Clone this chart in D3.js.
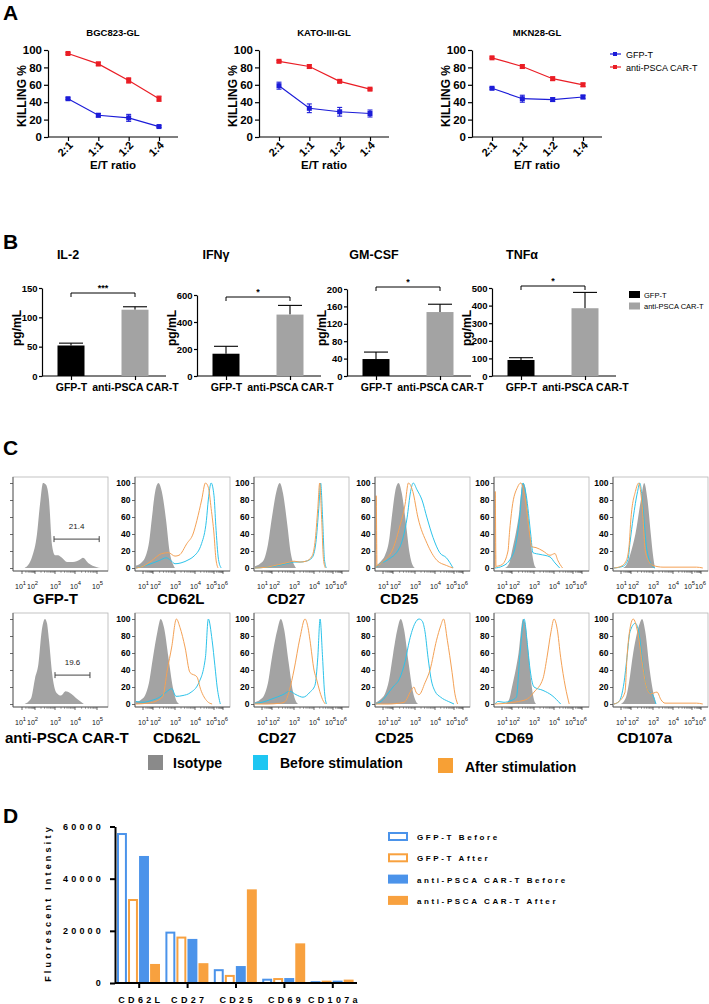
<!DOCTYPE html>
<html><head><meta charset="utf-8">
<script src="https://cdnjs.cloudflare.com/ajax/libs/d3/7.8.5/d3.min.js"></script>
<style>body{margin:0;background:#fff}svg{display:block}</style>
</head><body>
<svg id="chart" width="709" height="1004"></svg>
<script>
// ================= DATA =================
// Panel A
const ratios = ["2:1","1:1","1:2","1:4"];
const cellLines = ["BGC823-GL","KATO-III-GL","MKN28-GL"];
const killTicks = [0,20,40,60,80,100];
const killGFP    = [[44,25,22,12],[59,33,29,27],[56,44,43,46]];
const killGFPErr = [[1,2,4,1],[4,5,5,4],[1,4,2,2]];
const killCAR    = [[96,84,65,44],[87,81,64,55],[91,81,67,60]];
const killCARErr = [[1,2,3,3],[1,2,1,1],[1,2,2,2]];
const killSeries = ["GFP-T","anti-PSCA CAR-T"];

// Panel B
const bGroups = ["GFP-T","anti-PSCA CAR-T"];
const cytokines = ["IL-2","IFNγ","GM-CSF","TNFα"];
const cytoGFP    = [52,165,39,91];
const cytoGFPErr = [4,55,16,13];
const cytoCAR    = [113,455,147,385];
const cytoCARErr = [5,68,18,90];
const cytoTicks = [[0,50,100,150],[0,200,400,600],[0,40,80,120,160,200],[0,100,200,300,400,500]];
const cytoSig = ["***","*","*","*"];

// Panel C  (x = log10 fluorescence, y = % of max)
const histRows = ["GFP-T","anti-PSCA CAR-T"];
const histMarkers = ["CD62L","CD27","CD25","CD69","CD107a"];
const histPctTicks = [0,20,40,60,80,100];
const gfpHistGFPT = [[1.2,0],[1.5,4],[1.77,13],[2.1,40],[2.25,75],[2.4,100],[2.55,98],[2.7,80],[2.85,27],[3.0,15],[3.15,15],[3.35,12],[3.6,7],[3.9,7],[4.23,10],[4.36,12],[4.6,6],[5.0,1],[5.15,0]];
const gfpHistCAR  = [[1.2,0],[1.5,3],[1.73,8],[2.0,30],[2.17,47],[2.33,85],[2.5,100],[2.6,95],[2.7,75],[2.85,37],[3.08,13],[3.3,10],[3.53,15],[3.75,13],[4.1,6],[4.4,0]];
const gfpGatePct = ["21.4","19.6"];
const gfpGateFrom = [2.95,3.0];
const gfpGateTo = [5.1,4.68];

const CD62L_GFP_iso    = [[0.3,3],[0.8,6],[1.2,12],[1.6,30],[1.9,60],[2.1,90],[2.25,100],[2.4,90],[2.6,55],[2.75,20],[2.9,5],[3.0,0]];
const CD62L_GFP_before = [[0.3,0],[1,2],[1.8,5],[2.3,9],[2.6,12],[2.8,9],[3.0,5],[3.3,6],[3.7,10],[3.9,13],[4.35,29],[4.6,56],[4.7,80],[4.85,100],[5.0,85],[5.2,50],[5.5,10],[5.8,0]];
const CD62L_GFP_after  = [[0.3,0],[1,2],[1.8,8],[2.4,17],[2.7,18],[3.0,14],[3.2,15],[3.6,29],[3.9,40],[4.1,56],[4.35,80],[4.55,100],[4.7,95],[4.85,70],[5.0,40],[5.2,12],[5.45,0]];
const CD62L_CAR_iso    = [[0.3,2],[0.8,5],[1.2,10],[1.6,25],[2.0,55],[2.2,85],[2.35,100],[2.5,90],[2.7,55],[2.9,20],[3.05,5],[3.2,0]];
const CD62L_CAR_before = [[0.3,3],[1,2],[1.8,4],[2.3,8],[2.6,14],[2.85,18],[3.05,9],[3.4,10],[3.75,13],[4.2,25],[4.55,55],[4.7,100],[4.9,75],[5.1,45],[5.35,20],[5.7,0]];
const CD62L_CAR_after  = [[0.3,0],[1.5,1],[2.2,4],[2.45,9],[2.65,40],[2.85,67],[3.07,100],[3.25,90],[3.5,67],[3.75,37],[4.1,32],[4.3,17],[4.65,3],[4.9,0]];

const CD27_GFP_iso    = [[0.3,2],[0.8,5],[1.2,10],[1.6,28],[2.0,60],[2.2,90],[2.35,100],[2.5,88],[2.7,50],[2.85,18],[3.0,4],[3.1,0]];
const CD27_GFP_before = [[0.3,0],[1.5,1],[2.3,3],[2.8,6],[3.0,7],[3.3,7],[3.6,8],[3.9,12],[4.1,30],[4.25,70],[4.35,100],[4.45,60],[4.55,10],[4.65,0]];
const CD27_GFP_after  = [[0.3,0],[1.5,1],[2.3,4],[2.8,7],[3.0,8],[3.3,7],[3.6,8],[3.9,14],[4.05,30],[4.2,70],[4.3,100],[4.4,60],[4.5,10],[4.6,0]];
const CD27_CAR_iso    = [[0.3,2],[0.8,5],[1.2,10],[1.6,25],[2.0,55],[2.25,88],[2.4,100],[2.55,88],[2.75,50],[2.95,15],[3.1,3],[3.2,0]];
const CD27_CAR_before = [[0.3,1],[1,2],[2.0,6],[2.5,11],[2.8,15],[3.1,11],[3.45,8],[3.8,14],[4.05,22],[4.2,55],[4.32,100],[4.45,55],[4.55,15],[4.65,0]];
const CD27_CAR_after  = [[0.3,0],[1.5,0],[2.4,1],[2.6,3],[2.8,17],[3.0,40],[3.3,78],[3.55,100],[3.7,90],[3.8,75],[4.0,40],[4.15,28],[4.3,15],[4.5,3],[4.6,0]];

const CD25_GFP_iso    = [[0.3,3],[0.8,8],[1.2,15],[1.6,32],[1.9,62],[2.1,90],[2.25,100],[2.4,88],[2.6,50],[2.75,18],[2.9,3],[3.0,0]];
const CD25_GFP_before = [[0.3,0],[0.5,3],[1.4,9],[2.3,24],[2.64,59],[2.8,90],[2.92,100],[3.1,92],[3.35,80],[3.6,59],[3.9,36],[4.25,18],[4.6,12],[4.95,0]];
const CD25_GFP_after  = [[0.3,0],[0.32,85],[0.4,3],[1.2,10],[1.9,20],[2.3,48],[2.55,75],[2.7,100],[2.9,90],[3.15,59],[3.6,29],[4.1,9],[4.6,3],[4.95,0]];
const CD25_CAR_iso    = [[0.3,2],[0.8,6],[1.2,12],[1.6,28],[2.0,58],[2.2,88],[2.35,100],[2.5,88],[2.7,50],[2.9,15],[3.05,3],[3.15,0]];
const CD25_CAR_before = [[0.3,0],[1.0,5],[1.6,14],[2.0,20],[2.3,30],[2.55,50],[2.75,75],[3.0,95],[3.2,100],[3.35,98],[3.5,85],[3.65,55],[3.8,30],[4.0,15],[4.3,8],[4.7,3],[5.0,0]];
const CD25_CAR_after  = [[0.3,0],[1.5,0],[2.5,2],[2.85,17],[2.95,20],[3.05,14],[3.2,11],[3.5,25],[3.75,40],[4.08,75],[4.3,92],[4.45,100],[4.65,75],[4.9,37],[5.1,12],[5.4,0]];

const CD69_GFP_iso    = [[1.3,0],[1.7,5],[2.0,20],[2.3,60],[2.5,100],[2.6,95],[2.75,60],[2.9,20],[3.0,5],[3.1,0]];
const CD69_GFP_before = [[0.3,0],[1.0,2],[1.8,10],[2.15,25],[2.35,60],[2.5,100],[2.65,85],[2.85,40],[2.95,18],[3.3,16],[3.8,13],[4.05,6],[4.3,0]];
const CD69_GFP_after  = [[0.3,0],[0.32,90],[0.4,2],[1.0,4],[1.6,20],[1.75,42],[2.0,70],[2.25,95],[2.4,100],[2.6,80],[2.8,40],[2.9,25],[3.1,24],[3.45,20],[3.8,15],[4.05,17],[4.2,9],[4.45,0]];
const CD69_CAR_iso    = [[1.3,0],[1.7,5],[2.0,20],[2.3,60],[2.5,100],[2.6,95],[2.75,60],[2.9,20],[3.0,5],[3.1,0]];
const CD69_CAR_before = [[0.3,0],[0.6,3],[1.2,2],[1.9,4],[2.2,8],[2.35,55],[2.55,100],[2.7,70],[2.8,45],[3.0,20],[3.45,16],[3.9,10],[4.35,0]];
const CD69_CAR_after  = [[0.3,0],[1.5,1],[2.3,3],[2.7,6],[3.0,14],[3.45,30],[3.65,55],[3.85,85],[4.0,100],[4.17,88],[4.35,55],[4.6,20],[4.8,0]];

const CD107a_GFP_iso    = [[1.2,0],[1.6,5],[1.9,15],[2.2,40],[2.45,80],[2.6,100],[2.75,80],[2.9,40],[3.0,15],[3.1,0]];
const CD107a_GFP_before = [[0.3,0],[1.2,2],[1.7,10],[1.9,30],[2.1,59],[2.3,90],[2.4,100],[2.55,70],[2.7,25],[2.8,12],[2.95,3],[3.1,0]];
const CD107a_GFP_after  = [[0.3,0],[1.0,2],[1.5,8],[1.8,25],[2.0,59],[2.2,90],[2.35,100],[2.5,75],[2.65,20],[2.8,8],[3.0,3],[3.5,1],[5.5,1],[6.2,0]];
const CD107a_CAR_iso    = [[1.0,0],[1.5,8],[1.8,25],[2.1,60],[2.4,95],[2.5,100],[2.65,85],[2.85,40],[3.0,15],[3.15,0]];
const CD107a_CAR_before = [[0.3,0],[0.8,3],[1.3,25],[1.6,55],[1.9,85],[2.2,95],[2.35,85],[2.55,45],[2.7,20],[2.85,14],[3.0,10],[3.15,0]];
const CD107a_CAR_after  = [[0.3,0],[0.8,3],[1.4,14],[1.6,55],[1.85,85],[2.1,100],[2.3,85],[2.5,50],[2.7,20],[2.9,12],[3.2,14],[3.4,5],[3.6,1],[5.5,1],[6.2,0]];
const histLegend = ["Isotype","Before stimulation","After stimulation"];

// Panel D
const dMarkers = ["CD62L","CD27","CD25","CD69","CD107a"];
const dSeries = ["GFP-T Before","GFP-T After","anti-PSCA CAR-T Before","anti-PSCA CAR-T After"];
const mfiGFPBefore = [57500,19700,5300,1650,700];
const mfiGFPAfter  = [32200,17800,3100,1900,900];
const mfiCARBefore = [48700,16900,6500,1900,900];
const mfiCARAfter  = [7300,7600,35900,15200,1300];
const dTicks = [0,20000,40000,60000];

// ================= DRAWING =================
const svg = d3.select("#chart");
const F = '"Liberation Sans", Arial, Helvetica, sans-serif';
function txt(g, x, y, s, size, o = {}) {
  const t = g.append("text").attr("x", x).attr("y", y).attr("font-size", size)
    .attr("font-family", F).attr("font-weight", o.weight || "bold")
    .attr("text-anchor", o.anchor || "start").attr("fill", o.fill || "#000").text(s);
  if (o.ls !== undefined) t.attr("letter-spacing", o.ls);
  if (o.rotate) t.attr("transform", `rotate(${o.rotate},${x},${y})`);
  return t;
}
function styleAxis(g, size, weight = "bold", sw = 1.2, col = "#000") {
  g.attr("font-family", F).attr("font-size", size).attr("font-weight", weight);
  g.selectAll("path,line").attr("stroke", col).attr("stroke-width", sw);
  g.selectAll("text").attr("fill", "#000");
}

// panel letters
[["A", 3, 20], ["B", 3, 249], ["C", 3, 455], ["D", 3, 823]].forEach(([s, x, y]) => txt(svg, x, y, s, 21));

// ---------- Panel A ----------
const redC = "#ea1d25", blueC = "#1c1cd8";
const aAxisX = [48, 259, 472];
const yA = d3.scaleLinear().domain([0, 100]).range([137, 50]);
cellLines.forEach((name, i) => {
  const x0 = aAxisX[i];
  const xA = d3.scalePoint().domain(ratios).range([x0 + 20, x0 + 111]);
  const g = svg.append("g");
  txt(g, x0 + 65, 36, name, 9.5, { anchor: "middle" });
  const ya = g.append("g").attr("transform", `translate(${x0},0)`)
    .call(d3.axisLeft(yA).tickValues(killTicks).tickSize(4).tickSizeOuter(0).tickPadding(2));
  styleAxis(ya, 11.5);
  const xa = g.append("g").attr("transform", "translate(0,137)")
    .call(d3.axisBottom(xA).tickSize(4).tickSizeOuter(0));
  styleAxis(xa, 11);
  xa.select(".domain").remove();
  xa.selectAll("text").attr("x", 0).attr("y", 0).attr("dy", null)
    .attr("text-anchor", "end").attr("transform", "translate(5,9) rotate(-45)");
  g.append("line").attr("x1", x0).attr("x2", x0 + 130).attr("y1", 137).attr("y2", 137)
    .attr("stroke", "#000").attr("stroke-width", 1.2);
  txt(g, x0 + 65, 169, "E/T ratio", 11.5, { anchor: "middle" });
  txt(g, x0 - 22, 96, "KILLING %", 12, { anchor: "middle", rotate: -90 });
  [[killGFP[i], killGFPErr[i], blueC], [killCAR[i], killCARErr[i], redC]].forEach(([vals, errs, c]) => {
    const pts = ratios.map((r, j) => [xA(r), vals[j], errs[j]]);
    g.append("path").attr("d", d3.line().x(d => d[0]).y(d => yA(d[1]))(pts))
      .attr("fill", "none").attr("stroke", c).attr("stroke-width", 1.2);
    pts.forEach(d => {
      const yl = yA(d[1] - d[2]), yh = yA(d[1] + d[2]);
      g.append("line").attr("x1", d[0]).attr("x2", d[0]).attr("y1", yl).attr("y2", yh).attr("stroke", c).attr("stroke-width", 1.1);
      [yl, yh].forEach(yy => g.append("line").attr("x1", d[0] - 2.5).attr("x2", d[0] + 2.5).attr("y1", yy).attr("y2", yy).attr("stroke", c).attr("stroke-width", 1.1));
      g.append("rect").attr("x", d[0] - 2.5).attr("y", yA(d[1]) - 2.5).attr("width", 5).attr("height", 5).attr("fill", c);
    });
  });
});
// legend A
killSeries.forEach((s, k) => {
  const yy = 54 + k * 13, c = k === 0 ? blueC : redC;
  svg.append("line").attr("x1", 610).attr("x2", 621).attr("y1", yy).attr("y2", yy).attr("stroke", c).attr("stroke-width", 1.2);
  svg.append("rect").attr("x", 613).attr("y", yy - 2).attr("width", 4).attr("height", 4).attr("fill", c);
  txt(svg, 626, yy + 3.5, s, 9, { weight: "normal" });
});

// ---------- Panel B ----------
const bAxisX = [42, 197, 347, 492];
const bTopY = [288, 295, 289, 288];
const bBracketY = [293, 297, 287, 286];
const bTitleX = [68, 216, 374, 522];
const bBase = 376, bBarW = 27;
cytokines.forEach((name, i) => {
  const x0 = bAxisX[i];
  const g = svg.append("g");
  const tk = cytoTicks[i];
  const yB = d3.scaleLinear().domain([0, tk[tk.length - 1]]).range([bBase, bTopY[i]]);
  const xB = d3.scalePoint().domain(bGroups).range([x0 + 29, x0 + 93]);
  txt(g, bTitleX[i], 259, name, 12.5, { anchor: "middle" });
  const ya = g.append("g").attr("transform", `translate(${x0},0)`)
    .call(d3.axisLeft(yB).tickValues(tk).tickSize(3).tickSizeOuter(0).tickPadding(1.5));
  styleAxis(ya, 9.5);
  const xa = g.append("g").attr("transform", `translate(0,${bBase})`)
    .call(d3.axisBottom(xB).tickSize(4).tickSizeOuter(0).tickPadding(4));
  styleAxis(xa, 10.5);
  xa.select(".domain").remove();
  g.append("line").attr("x1", x0).attr("x2", x0 + 124).attr("y1", bBase).attr("y2", bBase).attr("stroke", "#000").attr("stroke-width", 1.2);
  txt(g, x0 - 21, 328, "pg/mL", 12, { anchor: "middle", rotate: -90 });
  const vals = [cytoGFP[i], cytoCAR[i]], errs = [cytoGFPErr[i], cytoCARErr[i]], cols = ["#000", "#a3a3a3"];
  bGroups.forEach((grp, k) => {
    const cx = xB(grp);
    g.append("line").attr("x1", cx).attr("x2", cx).attr("y1", yB(vals[k])).attr("y2", yB(vals[k] + errs[k])).attr("stroke", "#000").attr("stroke-width", 1.1);
    g.append("line").attr("x1", cx - 12).attr("x2", cx + 12).attr("y1", yB(vals[k] + errs[k])).attr("y2", yB(vals[k] + errs[k])).attr("stroke", "#000").attr("stroke-width", 1.1);
    g.append("rect").attr("x", cx - bBarW / 2).attr("y", yB(vals[k])).attr("width", bBarW).attr("height", bBase - yB(vals[k])).attr("fill", cols[k]);
  });
  const by = bBracketY[i], xa1 = xB(bGroups[0]), xa2 = xB(bGroups[1]);
  g.append("path").attr("d", `M${xa1},${by + 4}V${by}H${xa2}V${by + 4}`).attr("fill", "none").attr("stroke", "#000").attr("stroke-width", 1);
  txt(g, (xa1 + xa2) / 2, by - 2, cytoSig[i], 9, { anchor: "middle" });
});
// legend B
bGroups.forEach((s, k) => {
  svg.append("rect").attr("x", 629).attr("y", 291 + k * 11.5).attr("width", 11).attr("height", 7).attr("fill", k === 0 ? "#000" : "#a3a3a3");
  txt(svg, 644, 297.5 + k * 11.5, s, 7.5, { weight: "normal" });
});

// ---------- Panel C ----------
const isoC = "#a3a3a3", befC = "#2cc3ea", aftC = "#f4a155";
const boxL = [13, 135, 254, 375, 494, 613], boxW = 95;
const rowTop = [477, 613], rowH = 94;
const histData = {
  CD62L: [[CD62L_GFP_iso, CD62L_GFP_before, CD62L_GFP_after], [CD62L_CAR_iso, CD62L_CAR_before, CD62L_CAR_after]],
  CD27: [[CD27_GFP_iso, CD27_GFP_before, CD27_GFP_after], [CD27_CAR_iso, CD27_CAR_before, CD27_CAR_after]],
  CD25: [[CD25_GFP_iso, CD25_GFP_before, CD25_GFP_after], [CD25_CAR_iso, CD25_CAR_before, CD25_CAR_after]],
  CD69: [[CD69_GFP_iso, CD69_GFP_before, CD69_GFP_after], [CD69_CAR_iso, CD69_CAR_before, CD69_CAR_after]],
  CD107a: [[CD107a_GFP_iso, CD107a_GFP_before, CD107a_GFP_after], [CD107a_CAR_iso, CD107a_CAR_before, CD107a_CAR_after]]
};
const labelX = [[33, 157, 267, 380, 495, 617], [5, 153, 258, 375, 495, 617]];
let clipId = 0;
function histPanel(r, c) {
  const L = boxL[c], T = rowTop[r];
  const g = svg.append("g");
  const decades = c === 0 ? [1, 2, 3, 4, 5] : [1, 2, 3, 4, 5, 6];
  const offs = c === 0 ? [9, 22, 42, 62, 84] : [8, 18, 40, 60, 79, 88];
  // tick-label groups: [first decade, start offset relative to tick]
  const labelGroups = c === 0 ? [[[1, 2], -7], [[3], -5], [[4], -5], [[5], -5]] : [[[1, 2], -5], [[3], -5], [[4], -5], [[5, 6], -8]];
  const xs = d3.scaleLinear().domain(decades).range(offs.map(o => L + o));
  const ys = d3.scaleLinear().domain([0, 100]).range([T + rowH - 3, T + 6]);
  const id = "clip" + (clipId++);
  g.append("clipPath").attr("id", id).append("rect").attr("x", L).attr("y", T).attr("width", boxW).attr("height", rowH);
  const plot = g.append("g").attr("clip-path", `url(#${id})`);
  const area = d3.area().x(d => xs(d[0])).y0(ys(0)).y1(d => ys(d[1])).curve(d3.curveMonotoneX);
  const line = d3.line().x(d => xs(d[0])).y(d => ys(d[1])).curve(d3.curveMonotoneX);
  if (c === 0) {
    const h = r === 0 ? gfpHistGFPT : gfpHistCAR;
    plot.append("path").attr("d", area(h)).attr("fill", isoC);
    const gy = ys(34);
    g.append("line").attr("x1", xs(gfpGateFrom[r])).attr("x2", xs(gfpGateTo[r])).attr("y1", gy).attr("y2", gy).attr("stroke", "#444").attr("stroke-width", 1);
    [gfpGateFrom[r], gfpGateTo[r]].forEach(v => g.append("line").attr("x1", xs(v)).attr("x2", xs(v)).attr("y1", gy - 3).attr("y2", gy + 3).attr("stroke", "#444").attr("stroke-width", 1));
    txt(g, (xs(gfpGateFrom[r]) + xs(gfpGateTo[r])) / 2, gy - 10, gfpGatePct[r], 8, { anchor: "middle", weight: "normal", fill: "#222" });
  } else {
    const [iso, bef, aft] = histData[histMarkers[c - 1]][r];
    plot.append("path").attr("d", area(iso)).attr("fill", isoC);
    plot.append("path").attr("d", line(bef)).attr("fill", "none").attr("stroke", befC).attr("stroke-width", 1);
    plot.append("path").attr("d", line(aft)).attr("fill", "none").attr("stroke", aftC).attr("stroke-width", 1);
  }
  // frame
  g.append("rect").attr("x", L).attr("y", T).attr("width", boxW).attr("height", rowH).attr("fill", "none").attr("stroke", "#b5b5b5").attr("stroke-width", 0.8);
  g.append("line").attr("x1", L).attr("x2", L).attr("y1", T).attr("y2", T + rowH).attr("stroke", "#555").attr("stroke-width", 0.9);
  g.append("line").attr("x1", L).attr("x2", L + boxW).attr("y1", T + rowH).attr("y2", T + rowH).attr("stroke", "#555").attr("stroke-width", 0.9);
  // y axis ticks
  const yax = g.append("g").attr("transform", `translate(${L},0)`)
    .call(d3.axisLeft(ys).tickValues(histPctTicks).tickSize(3).tickSizeOuter(0).tickPadding(1.5).tickFormat(c === 0 ? "" : d3.format("d")));
  styleAxis(yax, 8.5, "bold", 0.8, "#444");
  yax.select(".domain").remove();
  // x axis ticks (major + minor)
  const minor = [];
  decades.slice(0, -1).forEach(dd => { for (let k = 2; k <= 9; k++) minor.push(dd + Math.log10(k)); });
  minor.forEach(v => g.append("line").attr("x1", xs(v)).attr("x2", xs(v)).attr("y1", T + rowH).attr("y2", T + rowH + 1.8).attr("stroke", "#555").attr("stroke-width", 0.6));
  decades.forEach(v => g.append("line").attr("x1", xs(v)).attr("x2", xs(v)).attr("y1", T + rowH).attr("y2", T + rowH + 3).attr("stroke", "#444").attr("stroke-width", 0.8));
  const ly = T + rowH + 18;
  labelGroups.forEach(([gr, off]) => {
    const t = g.append("text").attr("x", xs(gr[0]) + off).attr("y", ly)
      .attr("font-family", F).attr("font-size", 7).attr("fill", "#111");
    gr.forEach((v, j) => {
      t.append("tspan").attr("dy", j === 0 ? 0 : 4).attr("dx", j === 0 ? 0 : (gr[1] - gr[0] === 1 && v <= 2 ? 1 : 0)).text("10");
      t.append("tspan").attr("dy", -4).attr("font-size", 5.8).text(v);
    });
  });
  txt(g, labelX[r][c], r === 0 ? 604 : 743, c === 0 ? histRows[r] : histMarkers[c - 1], 15);
}
[0, 1].forEach(r => d3.range(6).forEach(c => histPanel(r, c)));
// legend C
const legC = [[148, 755, "#8a8a8a", 173, 768], [253, 755, "#1ec6f2", 280, 768], [438, 758, "#f7a035", 465, 772]];
histLegend.forEach((s, k) => {
  const [rx, ry, col, tx, ty] = legC[k];
  svg.append("rect").attr("x", rx).attr("y", ry).attr("width", 15).attr("height", 15).attr("fill", col);
  txt(svg, tx, ty, s, 14);
});

// ---------- Panel D ----------
const dBlue = "#4b93ea", dOrange = "#f8a13f";
const yD = d3.scaleLinear().domain([0, 60000]).range([983, 826.5]);
const xD = d3.scaleBand().domain(dMarkers).range([115, 357]);
const xDi = d3.scaleBand().domain(dSeries).range([2, 45]).paddingInner(0.1);
const dVals = [mfiGFPBefore, mfiGFPAfter, mfiCARBefore, mfiCARAfter];
const dCols = [dBlue, dOrange, dBlue, dOrange];
const dOutline = [true, true, false, false];
dMarkers.forEach((m, i) => {
  dSeries.forEach((s, k) => {
    const x = xD(m) + xDi(s), w = xDi.bandwidth(), v = dVals[k][i];
    if (dOutline[k]) {
      svg.append("rect").attr("x", x + 1).attr("y", yD(v) + 1).attr("width", w - 2).attr("height", Math.max(0, yD(0) - yD(v) - 1))
        .attr("fill", "#fff").attr("stroke", dCols[k]).attr("stroke-width", 2);
    } else {
      svg.append("rect").attr("x", x).attr("y", yD(v)).attr("width", w).attr("height", yD(0) - yD(v)).attr("fill", dCols[k]);
    }
  });
});
const yDa = svg.append("g").attr("transform", "translate(115,0)")
  .call(d3.axisLeft(yD).tickValues(dTicks).tickSize(5).tickSizeOuter(0).tickPadding(6).tickFormat(d3.format("d")));
styleAxis(yDa, 9, "bold", 2);
yDa.selectAll("text").attr("letter-spacing", 3.2);
const xDa = svg.append("g").attr("transform", "translate(0,983)")
  .call(d3.axisBottom(xD).tickSize(5).tickSizeOuter(0).tickPadding(9));
styleAxis(xDa, 9, "bold", 2);
xDa.selectAll("text").attr("letter-spacing", 3.3).attr("dx", 1.6);
xDa.select(".domain").attr("d", "M115,0H357");
txt(svg, 51, 903, "Fluorescent Intensity", 9, { anchor: "middle", rotate: -90, ls: 3.2 });
// legend D
dSeries.forEach((s, k) => {
  const yy = 832 + k * 21.3;
  if (dOutline[k]) svg.append("rect").attr("x", 389).attr("y", yy + 1).attr("width", 18).attr("height", 7).attr("fill", "#fff").attr("stroke", dCols[k]).attr("stroke-width", 2);
  else svg.append("rect").attr("x", 388).attr("y", yy).attr("width", 20).attr("height", 9).attr("fill", dCols[k]);
  txt(svg, 417, yy + 8, s, 8, { ls: 2.6 });
});
</script>
</body></html>
